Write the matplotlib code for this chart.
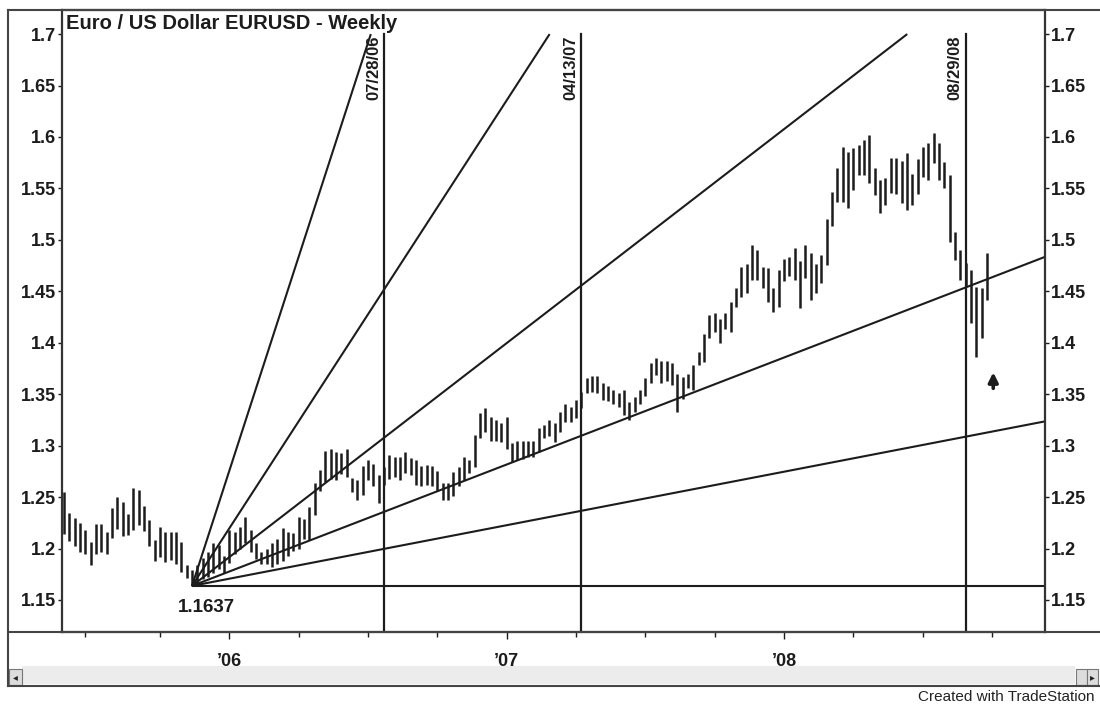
import numpy as np
import pandas as pd
import matplotlib.pyplot as plt
from matplotlib.lines import Line2D
from matplotlib.patches import Rectangle

plt.rcParams['font.family'] = ['Liberation Sans', 'DejaVu Sans']
plt.rcParams['font.weight'] = 'bold'

# weekly bars, week ending Friday, first bar 2005-06-03
first_week = '2005-06-03'
highs = [1.255, 1.235, 1.230, 1.225, 1.218, 1.206, 1.224, 1.224, 1.216, 1.239,
         1.250, 1.245, 1.234, 1.259, 1.257, 1.241, 1.228, 1.208, 1.221, 1.216,
         1.216, 1.216, 1.206, 1.184, 1.179, 1.184, 1.191, 1.197, 1.205, 1.203,
         1.193, 1.218, 1.216, 1.221, 1.231, 1.218, 1.205, 1.197, 1.200, 1.205,
         1.209, 1.220, 1.216, 1.215, 1.231, 1.229, 1.240, 1.264, 1.276, 1.295,
         1.297, 1.294, 1.293, 1.297, 1.269, 1.267, 1.280, 1.286, 1.282, 1.271,
         1.279, 1.291, 1.289, 1.289, 1.294, 1.288, 1.286, 1.280, 1.281, 1.280,
         1.275, 1.264, 1.264, 1.274, 1.279, 1.289, 1.286, 1.310, 1.332, 1.337,
         1.328, 1.325, 1.322, 1.328, 1.303, 1.305, 1.305, 1.305, 1.305, 1.317,
         1.320, 1.325, 1.322, 1.333, 1.340, 1.338, 1.344, 1.352, 1.366, 1.368,
         1.368, 1.361, 1.358, 1.354, 1.351, 1.354, 1.342, 1.347, 1.354, 1.366,
         1.380, 1.385, 1.382, 1.382, 1.380, 1.370, 1.367, 1.370, 1.378, 1.391,
         1.409, 1.427, 1.429, 1.423, 1.429, 1.440, 1.453, 1.474, 1.477, 1.495,
         1.490, 1.474, 1.473, 1.453, 1.471, 1.481, 1.483, 1.492, 1.479, 1.495,
         1.487, 1.477, 1.485, 1.520, 1.547, 1.570, 1.590, 1.585, 1.589, 1.592,
         1.597, 1.602, 1.570, 1.558, 1.560, 1.580, 1.580, 1.577, 1.584, 1.564,
         1.579, 1.590, 1.594, 1.604, 1.594, 1.576, 1.563, 1.508, 1.490, 1.478,
         1.471, 1.454, 1.453, 1.487]
lows = [1.214, 1.207, 1.202, 1.197, 1.195, 1.184, 1.195, 1.197, 1.195, 1.210,
        1.219, 1.212, 1.213, 1.218, 1.223, 1.217, 1.202, 1.188, 1.192, 1.187,
        1.189, 1.185, 1.177, 1.171, 1.1637, 1.166, 1.170, 1.172, 1.176, 1.180,
        1.176, 1.186, 1.195, 1.200, 1.205, 1.197, 1.190, 1.185, 1.185, 1.182,
        1.185, 1.188, 1.193, 1.198, 1.200, 1.209, 1.208, 1.233, 1.256, 1.265,
        1.268, 1.267, 1.272, 1.270, 1.255, 1.247, 1.252, 1.267, 1.261, 1.244,
        1.262, 1.268, 1.270, 1.267, 1.273, 1.271, 1.262, 1.261, 1.262, 1.261,
        1.256, 1.247, 1.247, 1.251, 1.261, 1.267, 1.273, 1.279, 1.307, 1.313,
        1.305, 1.305, 1.304, 1.297, 1.284, 1.286, 1.287, 1.289, 1.289, 1.294,
        1.307, 1.309, 1.304, 1.313, 1.323, 1.323, 1.327, 1.337, 1.351, 1.352,
        1.351, 1.344, 1.343, 1.340, 1.338, 1.330, 1.325, 1.333, 1.340, 1.348,
        1.361, 1.369, 1.361, 1.363, 1.359, 1.333, 1.345, 1.356, 1.354, 1.378,
        1.381, 1.405, 1.410, 1.400, 1.413, 1.410, 1.435, 1.444, 1.448, 1.461,
        1.461, 1.453, 1.440, 1.430, 1.435, 1.460, 1.465, 1.461, 1.434, 1.463,
        1.442, 1.448, 1.458, 1.476, 1.513, 1.537, 1.537, 1.531, 1.548, 1.563,
        1.563, 1.555, 1.544, 1.526, 1.534, 1.546, 1.545, 1.536, 1.529, 1.534,
        1.545, 1.561, 1.558, 1.575, 1.558, 1.550, 1.498, 1.480, 1.461, 1.455,
        1.419, 1.386, 1.405, 1.442]

pivot_date = '2005-11-18'
pivot_price = 1.1637
fan_ratios = [8, 4, 2, 1, 0.5, 0]
fan_unit = 0.002          # price per week for the 1x1 line
fan_top = 1.7

marker_dates = ['2006-07-28', '2007-04-13', '2008-08-29']
marker_labels = ['07/28/06', '04/13/07', '08/29/08']
year_labels = ['\u201906', '\u201907', '\u201908']
yticks = [1.15, 1.2, 1.25, 1.3, 1.35, 1.4, 1.45, 1.5, 1.55, 1.6, 1.65, 1.7]

W, H = 1100, 706
dates = pd.date_range(first_week, periods=190, freq='W-FRI')
x = np.arange(len(highs))
xmin, xmax = -0.37, 183.9
ymin, ymax = 1.1189, 1.7234
ink = '#1c1c1c'

fig = plt.figure(figsize=(W / 100, H / 100), dpi=100)
ax = fig.add_axes([62 / W, 1 - 632 / H, (1045 - 62) / W, (632 - 10) / H])

# price bars
ax.vlines(x, lows, highs, color=ink, lw=1.8)

# gann fan from the low
piv = dates.get_loc(pd.Timestamp(pivot_date))
for r in fan_ratios:
    if r == 0:
        xe, ye = xmax, pivot_price
    else:
        s = r * fan_unit
        xe = min(piv + (fan_top - pivot_price) / s, xmax)
        ye = pivot_price + s * (xe - piv)
    ax.plot([piv, xe], [pivot_price, ye], color=ink, lw=1.5, solid_capstyle='butt')

# time markers
for d, lab in zip(marker_dates, marker_labels):
    xi = dates.get_loc(pd.Timestamp(d))
    ax.plot([xi, xi], [fan_top, ymin], color=ink, lw=1.6)
    ax.text(xi - 0.5, fan_top - 0.001, lab, rotation=90, ha='right', va='top',
            fontsize=12, color=ink)

ax.annotate('1.1637', xy=(piv, pivot_price), xytext=(14, -22),
            textcoords='offset pixels', ha='center', va='center',
            fontsize=13.5, color=ink)

ax.annotate('', xy=(174.2, 1.374), xytext=(174.2, 1.353),
            arrowprops=dict(arrowstyle='-|>', lw=2.6, color=ink, mutation_scale=14))

ax.text(0.004, 0.994, 'Euro / US Dollar EURUSD - Weekly', transform=ax.transAxes,
        ha='left', va='top', fontsize=14.5, color=ink)

ax.set_xlim(xmin, xmax)
ax.set_ylim(ymin, ymax)

ax.set_yticks(yticks)
ax.set_yticklabels([f'{v:g}' for v in yticks])
ax.tick_params(axis='y', left=True, right=True, labelleft=True, labelright=True,
               direction='out', length=3, width=1, pad=1.5, labelsize=13,
               colors=ink)

year_pos = [int(np.argmax(dates.year == y)) for y in (2006, 2007, 2008)]
quarter_pos = [i for i in range(1, len(dates))
               if dates[i].month != dates[i - 1].month and dates[i].month in (1, 4, 7, 10)
               and i < xmax]
ax.set_xticks(year_pos)
ax.set_xticklabels(year_labels)
ax.set_xticks(quarter_pos, minor=True)
ax.tick_params(axis='x', which='major', direction='out', length=5, width=1,
               pad=10, labelsize=13, colors=ink)
ax.tick_params(axis='x', which='minor', direction='out', length=3.5, width=1,
               colors=ink)

for sp in ax.spines.values():
    sp.set_color('#333333')
    sp.set_linewidth(1.6)

# window frame and scroll bar
def px(xp, yp):
    return xp / W, 1 - yp / H

for (x0, y0), (x1, y1) in [((8, 10), (1100, 10)), ((8, 10), (8, 686)),
                           ((8, 632), (1100, 632)), ((8, 686), (1100, 686))]:
    a, b = px(x0, y0)
    c, d = px(x1, y1)
    fig.add_artist(Line2D([a, c], [b, d], color='#444444', lw=1.5))

fig.add_artist(Rectangle(px(22, 684), 1053 / W, 18 / H, facecolor='#ececec',
                         edgecolor='none', transform=fig.transFigure))
for bx, bw in [(9, 13), (1076, 11), (1087, 11)]:
    fig.add_artist(Rectangle(px(bx, 685), bw / W, 16 / H, facecolor='#dcdcdc',
                             edgecolor='#777777', lw=0.8, transform=fig.transFigure))
fig.text(*px(15.5, 677), '\u25c2', ha='center', va='center', fontsize=7,
         family='DejaVu Sans', color='#222222')
fig.text(*px(1092.5, 677), '\u25b8', ha='center', va='center', fontsize=7,
         family='DejaVu Sans', color='#222222')

fig.text(*px(1095, 697), 'Created with TradeStation', ha='right', va='center',
         fontsize=11, weight='normal', color='#222222')

fig.savefig('out.png', dpi=100)
